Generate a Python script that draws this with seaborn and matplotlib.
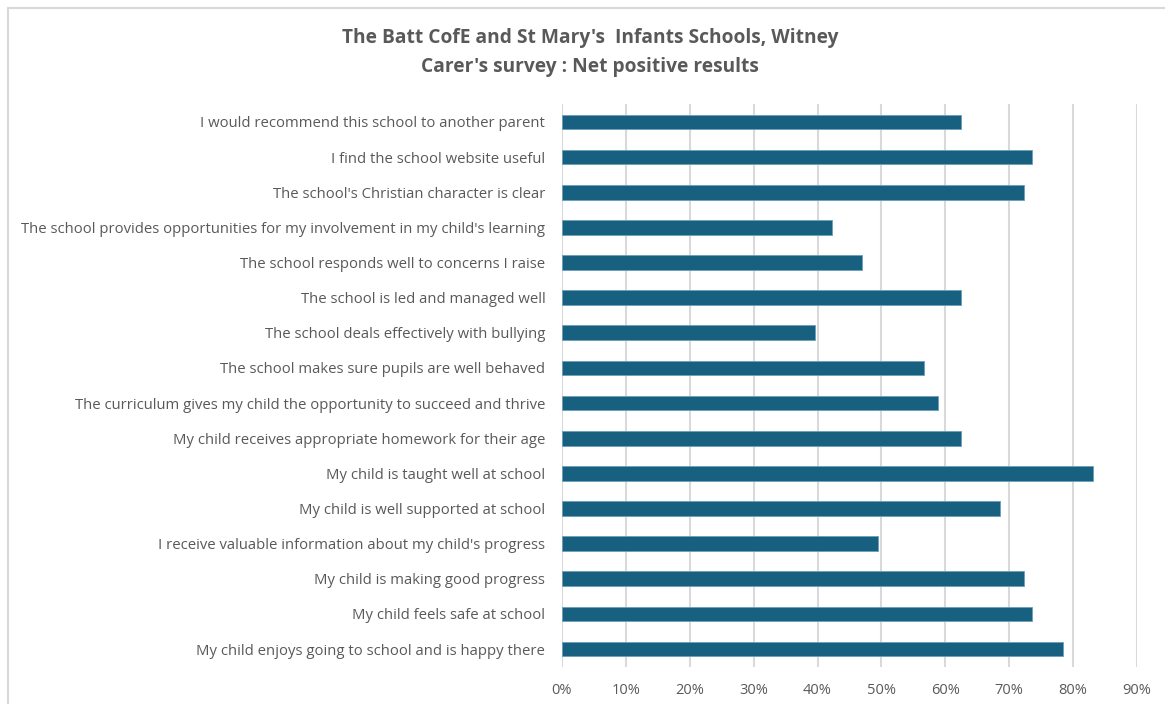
import matplotlib
matplotlib.use("Agg")
import matplotlib.pyplot as plt
import seaborn as sns
from matplotlib.patches import Rectangle
from matplotlib.ticker import PercentFormatter

# survey statements, top to bottom as shown
questions = [
    "I would recommend this school to another parent",
    "I find the school website useful",
    "The school's Christian character is clear",
    "The school provides opportunities for my involvement in my child's learning",
    "The school responds well to concerns I raise",
    "The school is led and managed well",
    "The school deals effectively with bullying",
    "The school makes sure pupils are well behaved",
    "The curriculum gives my child the opportunity to succeed and thrive",
    "My child receives appropriate homework for their age",
    "My child is taught well at school",
    "My child is well supported at school",
    "I receive valuable information about my child's progress",
    "My child is making good progress",
    "My child feels safe at school",
    "My child enjoys going to school and is happy there",
]
net_positive = [0.625, 0.735, 0.723, 0.422, 0.469, 0.625, 0.396, 0.566,
                0.589, 0.625, 0.831, 0.686, 0.494, 0.723, 0.735, 0.784]
x_ticks = [0, 0.1, 0.2, 0.3, 0.4, 0.5, 0.6, 0.7, 0.8, 0.9]

title_1 = "The Batt CofE and St Mary's  Infants Schools, Witney"
title_2 = "Carer's survey : Net positive results"

sns.set_theme(style="white")
plt.rcParams["font.family"] = ["Open Sans", "DejaVu Sans"]

text_grey = "#595959"
bar_blue = "#17607F"

fig = plt.figure(figsize=(11.65, 7.04), dpi=100)
ax = fig.add_axes([562 / 1165, 1 - 666.6 / 704, (1137 - 562) / 1165, (666.6 - 104.4) / 704])

sns.barplot(x=net_positive, y=questions, orient="h", color=bar_blue,
            width=0.42, edgecolor="#6a9fbb", linewidth=0.6, saturation=1, ax=ax, zorder=3)

ax.set_xlim(0, 0.9)
ax.set_ylim(15.5, -0.5)
ax.set_xticks(x_ticks)
ax.xaxis.set_major_formatter(PercentFormatter(1.0, decimals=0))
ax.grid(axis="x", color="#D9D9D9", linewidth=1.5, zorder=0)
ax.grid(axis="y", visible=False)
for s in ax.spines.values():
    s.set_visible(False)
ax.tick_params(axis="x", length=0, pad=12, labelsize=10.5, labelcolor=text_grey)
ax.tick_params(axis="y", length=0, pad=12, labelsize=10.7, labelcolor=text_grey)
ax.set_xlabel("")
ax.set_ylabel("")

fig.text(590 / 1165, 1 - 38 / 704, title_1, ha="center", va="center",
         fontsize=13.8, fontweight="bold", color=text_grey)
fig.text(590 / 1165, 1 - 67 / 704, title_2, ha="center", va="center",
         fontsize=13.8, fontweight="bold", color=text_grey)

# chart area border (cut off on the right and bottom)
fig.patches.append(Rectangle((7.5 / 1165, -0.05), 1.2, 1 - 7.5 / 704 + 0.05,
                             transform=fig.transFigure, fill=False,
                             edgecolor="#D9D9D9", linewidth=1.5))

fig.savefig("out.png", dpi=100)
